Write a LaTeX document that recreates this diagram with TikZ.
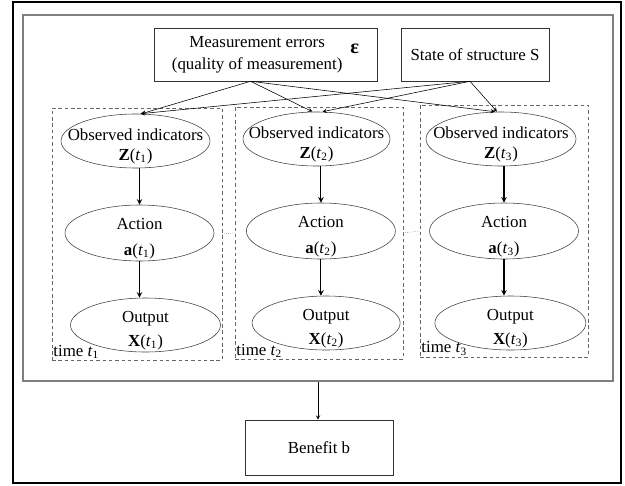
\documentclass[tikz,border=0pt]{standalone}
\usepackage{fontspec}
\setmainfont{Liberation Serif}
\usetikzlibrary{shapes.geometric, arrows}

\tikzstyle{topbox} = [rectangle, minimum height=1.325cm, draw=black!80, inner sep=0pt]
\tikzstyle{stage} = [ellipse, minimum width=3.725cm, minimum height=1.35cm, inner xsep=-0.4cm, inner ysep=-0.25cm, draw=black!75, align=center]
\tikzstyle{timebox} = [rectangle, draw=black!60, dash pattern=on 2.5pt off 2pt, minimum width=4.2cm, minimum height=6.3cm]
\tikzstyle{timelabel} = [anchor=south west, inner sep=1pt]
\tikzstyle{arrow} = [thin,->,>=stealth]
\tikzstyle{flow} = [thick,->,>=stealth]

\begin{document}
\begin{tikzpicture}[node distance=2.3cm, font=\fontsize{12}{14}\selectfont]
\useasboundingbox (0,0) rectangle (15.625,-12.125);
\draw [line width=1.4pt] (0.325,-0.05) rectangle (15.525,-12.075);

\node (frame) [rectangle, draw=black!50, line width=0.9pt, minimum width=14.75cm, minimum height=9.15cm] at (7.95,-4.95) {};

\node (meas) [topbox, minimum width=5.575cm] at (6.6375,-1.3625) {\begin{tabular}{@{}c@{}}Measurement errors\\[1.6pt](quality of measurement)\end{tabular}\hspace{0.2cm}\raisebox{4pt}{\Large\bfseries ε}};
\node (state) [topbox, right of=meas, xshift=2.9375cm, minimum width=3.7cm] {State of structure S};

\node (slot1) [timebox, minimum width=4.25cm] at (3.425,-5.85) {};
\node (slot2) [timebox] at (7.975,-5.825) {};
\node (slot3) [timebox] at (12.6,-5.775) {};

\node (z1) [stage] at (3.3875,-3.525) {\rule{0pt}{16pt}Observed indicators\\\textbf{Z}(\textit{t}\textsubscript{1})};
\node (a1) [stage, below of=z1, xshift=0.1cm, minimum height=1.4cm] {\rule{0pt}{16pt}Action\\[4.5pt]\textbf{a}(\textit{t}\textsubscript{1})};
\node (o1) [stage, below of=a1, xshift=0.15cm, minimum width=3.75cm] {\rule{0pt}{16pt}Output\\[3pt]\textbf{X}(\textit{t}\textsubscript{1})};

\node (z2) [stage, minimum width=3.675cm] at (7.9125,-3.475) {\rule{0pt}{16pt}Observed indicators\\\textbf{Z}(\textit{t}\textsubscript{2})};
\node (a2) [stage, below of=z2, xshift=0.11cm, minimum height=1.4cm] {\rule{0pt}{16pt}Action\\[4.5pt]\textbf{a}(\textit{t}\textsubscript{2})};
\node (o2) [stage, below of=a2, xshift=0.13cm, minimum width=3.7cm] {\rule{0pt}{16pt}Output\\[3pt]\textbf{X}(\textit{t}\textsubscript{2})};

\node (z3) [stage, minimum width=3.75cm] at (12.525,-3.475) {\rule{0pt}{16pt}Observed indicators\\\textbf{Z}(\textit{t}\textsubscript{3})};
\node (a3) [stage, below of=z3, xshift=0.075cm, minimum height=1.4cm] {\rule{0pt}{16pt}Action\\[4.5pt]\textbf{a}(\textit{t}\textsubscript{3})};
\node (o3) [stage, below of=a3, xshift=0.16cm, minimum width=3.775cm] {\rule{0pt}{16pt}Output\\[3pt]\textbf{X}(\textit{t}\textsubscript{3})};

\node (tlabel1) [timelabel] at (slot1.south west) {time \textit{t}\textsubscript{1}};
\node (tlabel2) [timelabel] at (slot2.south west) {time \textit{t}\textsubscript{2}};
\node (tlabel3) [timelabel] at (slot3.south west) {time \textit{t}\textsubscript{3}};

\node (benefit) [topbox, minimum width=3.7cm, minimum height=1.375cm] at (7.975,-11.1875) {Benefit b};

\draw [arrow] ([xshift=-0.375cm]meas.south) -- ([xshift=0.15cm]z1.north);
\draw [arrow] ([xshift=-0.375cm]meas.south) -- ([xshift=-0.1cm]z2.north);
\draw [arrow] ([xshift=-0.375cm]meas.south) -- ([xshift=-0.15cm]z3.north);
\draw [arrow] ([xshift=-0.125cm]state.south) -- ([xshift=0.12cm]z1.north);
\draw [arrow] ([xshift=-0.125cm]state.south) -- ([xshift=0.15cm]z2.north);
\draw [arrow] ([xshift=-0.125cm]state.south) -- ([xshift=-0.1cm]z3.north);

\draw [flow] (a1.north |- z1.south) -- (a1.north);
\draw [flow] (a1.south) -- (a1.south |- o1.north);
\draw [flow] (a2.north |- z2.south) -- (a2.north);
\draw [flow] (a2.south) -- (a2.south |- o2.north);
\draw [flow] (a3.north |- z3.south) -- (a3.north);
\draw [flow] (a3.south) -- (a3.south |- o3.north);

\draw [densely dotted, black!40] (slot1.east) -- (slot2.west);
\draw [densely dotted, black!40] (slot2.east) -- (slot3.west);

\draw [arrow] (frame.south) -- (frame.south |- benefit.north);

\end{tikzpicture}
\end{document}
